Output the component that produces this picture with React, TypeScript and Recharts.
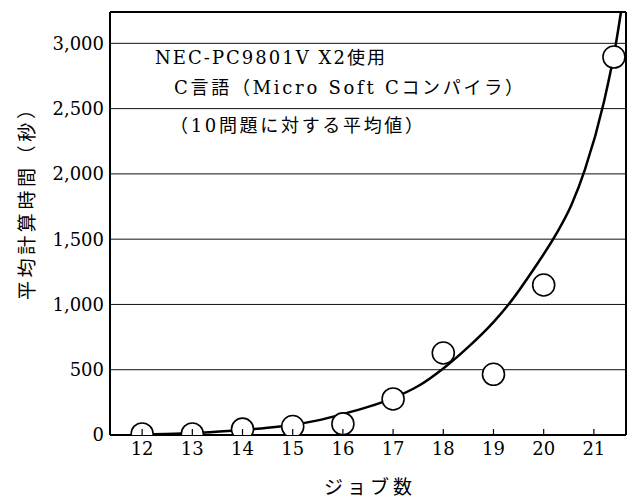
import React from 'react';
import { ComposedChart, Line, Scatter, XAxis, YAxis, CartesianGrid, ReferenceLine } from 'recharts';

const jobCounts = [12, 13, 14, 15, 16, 17, 18, 19, 20, 21.4];
const avgTimes = [8, 8, 45, 65, 85, 276, 628, 465, 1149, 2895];

const curveX = [12, 12.8, 13.35, 14, 14.5, 15, 15.5, 16, 16.5, 17, 17.5, 18, 18.5, 19, 19.3, 19.8, 20.25, 20.55, 20.82, 21.2, 21.44, 21.54];
const curveY = [3, 12, 22, 38, 55, 78, 112, 160, 215, 283, 375, 510, 675, 865, 1000, 1270, 1540, 1760, 2030, 2550, 3000, 3240];

const xTicks = [12, 13, 14, 15, 16, 17, 18, 19, 20, 21];
const yTicks = [0, 500, 1000, 1500, 2000, 2500, 3000];
const xDomain = [11.36, 21.64];
const yDomain = [0, 3240];

const noteLines = ['NEC-PC9801V X2使用', 'C言語（Micro Soft Cコンパイラ）', '（10問題に対する平均値）'];
const xLabel = 'ジョブ数';
const yLabel = '平均計算時間（秒）';

const points = jobCounts.map((x, i) => ({ x, y: avgTimes[i] }));
const curve = curveX.map((x, i) => ({ x, y: curveY[i] }));

const FONT = "'DejaVu Serif', 'Noto Sans CJK JP', serif";

const XTick = (props: any) => {
  const { x, y, payload } = props;
  return (
    <g>
      <line x1={x} y1={y - 7} x2={x} y2={y - 13} stroke="#000" strokeWidth={1.2} />
      <text x={x} y={y} dy="0.71em" textAnchor="middle" fontFamily={FONT} fontSize={18} fill="#000">
        {payload.value}
      </text>
    </g>
  );
};

const Dot = (props: any) => {
  const { cx, cy } = props;
  return <circle cx={cx} cy={cy} r={11} fill="#fff" stroke="#000" strokeWidth={1.6} />;
};

export default function App() {
  return (
    <div style={{ position: 'fixed', left: 0, top: 0, width: 630, height: 499, background: '#fff' }}>
      <ComposedChart width={630} height={499} margin={{ top: 12, right: 4, bottom: 0, left: 50 }}>
        <CartesianGrid vertical={false} stroke="#111" strokeWidth={1} />
        <XAxis
          type="number"
          dataKey="x"
          height={64}
          domain={xDomain}
          ticks={xTicks}
          allowDataOverflow
          tickLine={false}
          tickSize={0}
          tickMargin={7}
          tick={<XTick />}
          axisLine={{ stroke: '#000', strokeWidth: 2 }}
          label={{
            content: () => (
              <text x={368} y={494} textAnchor="middle" fontFamily={FONT} fontSize={19} fill="#000" textLength={88} lengthAdjust="spacing">
                {xLabel}
              </text>
            ),
          }}
        />
        <YAxis
          type="number"
          dataKey="y"
          width={60}
          domain={yDomain}
          ticks={yTicks}
          allowDataOverflow
          tickLine={false}
          tickSize={0}
          tickMargin={6}
          tickFormatter={(v: number) => v.toLocaleString('en-US')}
          tick={{ fontFamily: FONT, fontSize: 18, fill: '#000' }}
          axisLine={{ stroke: '#000', strokeWidth: 2 }}
          label={{
            content: () => (
              <text
                x={27}
                y={200}
                transform="rotate(-90 27 200)"
                textAnchor="middle"
                dominantBaseline="central"
                fontFamily={FONT}
                fontSize={19}
                fill="#000"
                textLength={200}
                lengthAdjust="spacing"
              >
                {yLabel}
              </text>
            ),
          }}
        />
        <ReferenceLine y={yDomain[1]} stroke="#000" strokeWidth={2} ifOverflow="extendDomain" />
        <ReferenceLine x={xDomain[1]} stroke="#000" strokeWidth={2} ifOverflow="extendDomain" />
        <Line
          data={curve}
          dataKey="y"
          type="monotone"
          stroke="#000"
          strokeWidth={2.5}
          dot={false}
          activeDot={false}
          isAnimationActive={false}
        />
        <Scatter data={points} dataKey="y" shape={<Dot />} isAnimationActive={false} />
      </ComposedChart>
      <svg width={630} height={499} style={{ position: 'absolute', left: 0, top: 0, pointerEvents: 'none' }}>
        <text x={155} y={64} fontFamily={FONT} fontSize={18} fill="#000" textLength={230} lengthAdjust="spacing">
          {noteLines[0]}
        </text>
        <text x={174} y={94} fontFamily={FONT} fontSize={18} fill="#000" textLength={349} lengthAdjust="spacing">
          {noteLines[1]}
        </text>
        <text x={170} y={132} fontFamily={FONT} fontSize={18} fill="#000" textLength={253} lengthAdjust="spacing">
          {noteLines[2]}
        </text>
      </svg>
    </div>
  );
}
